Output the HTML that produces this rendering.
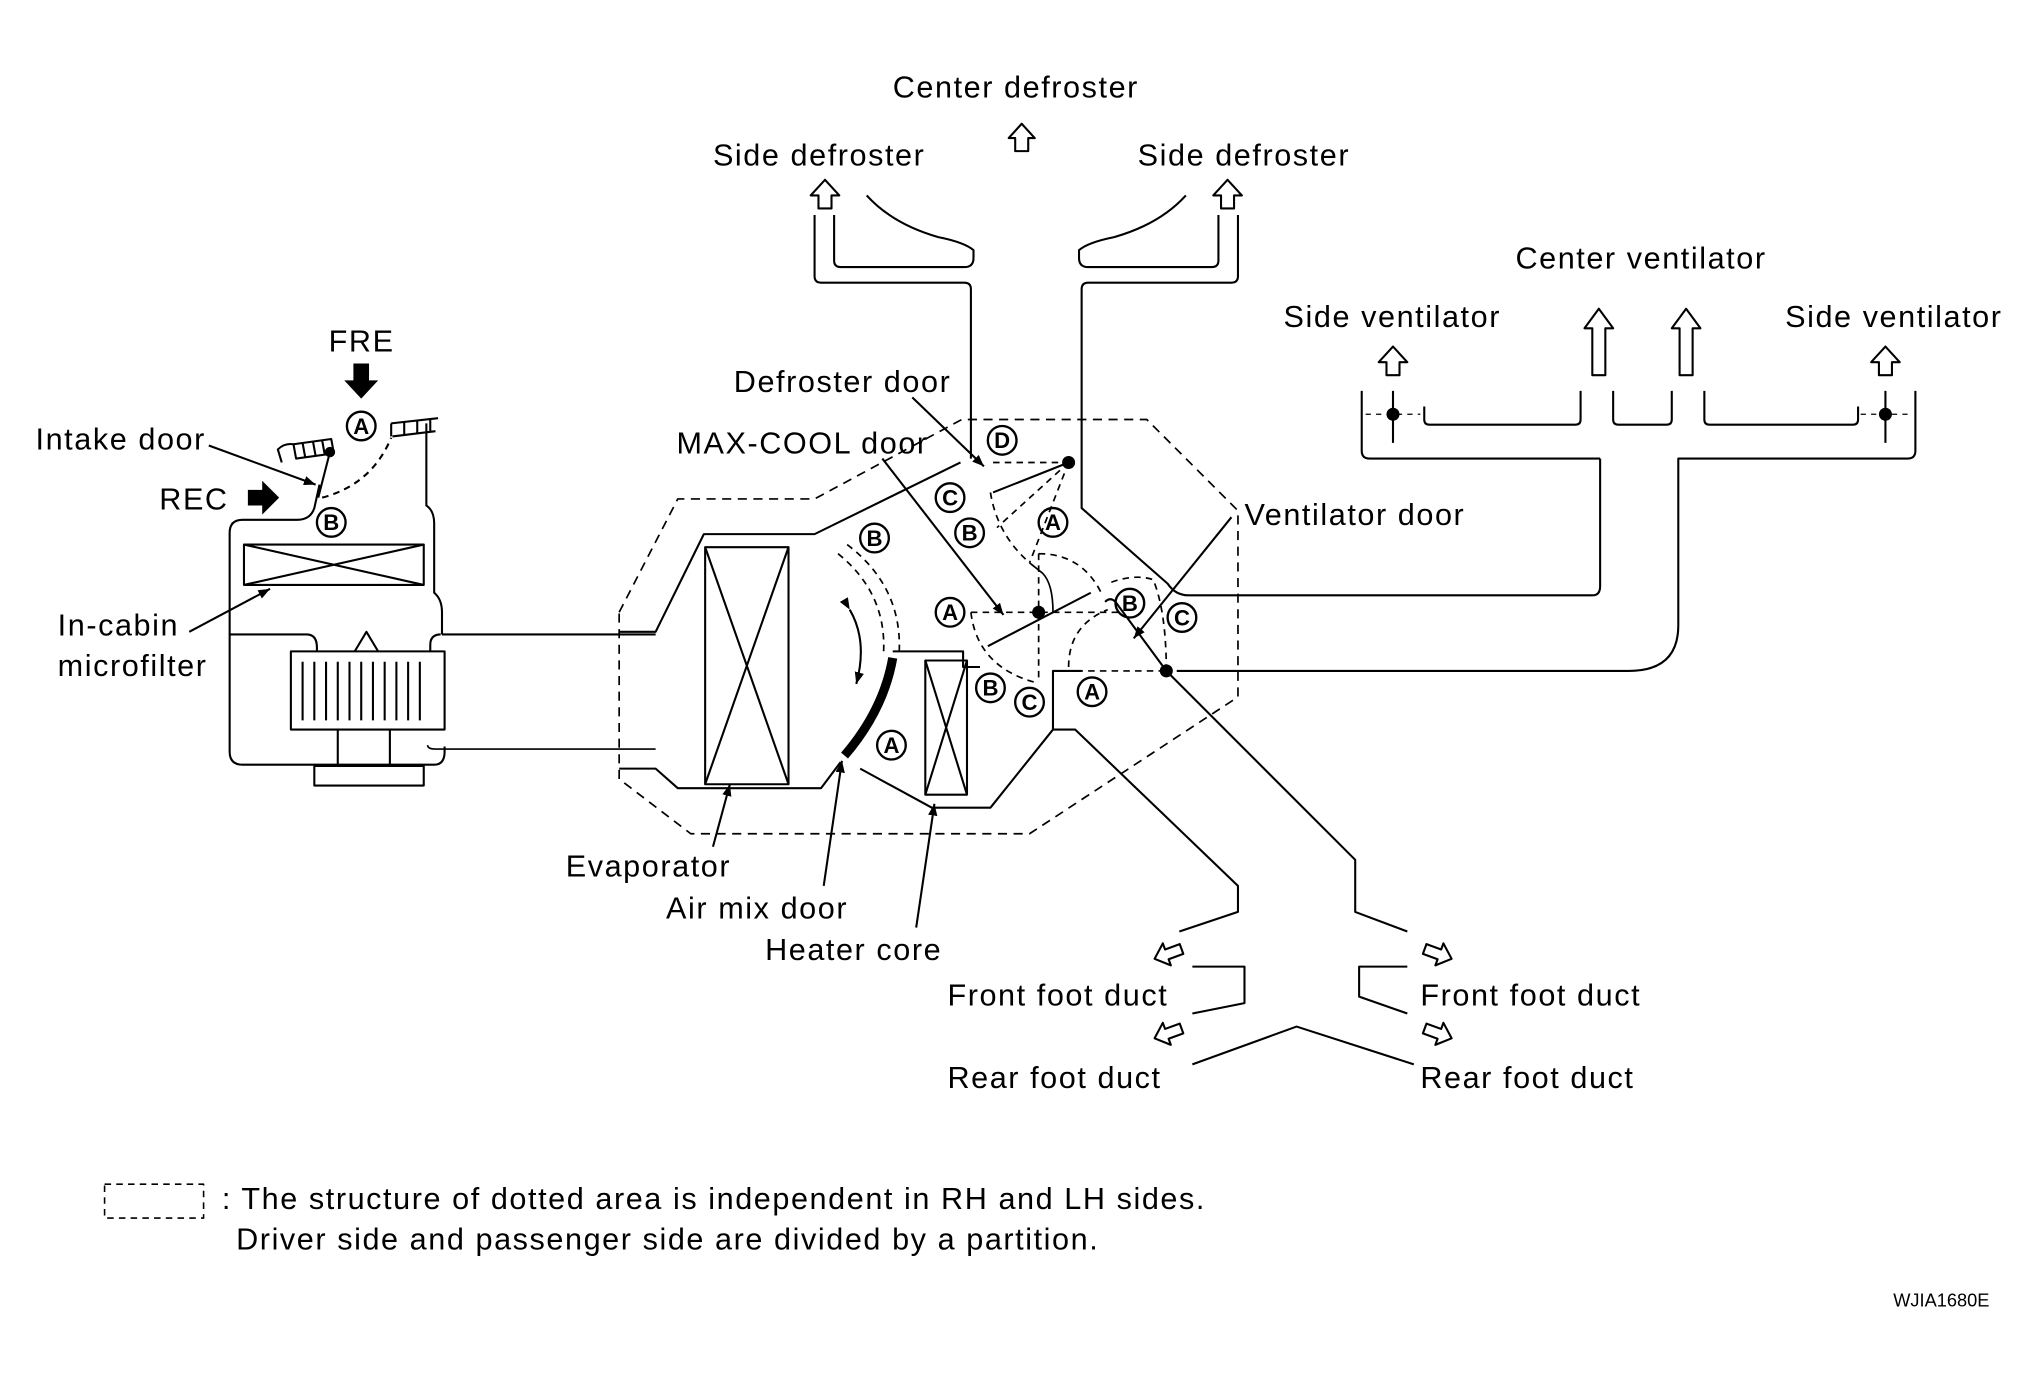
<!DOCTYPE html>
<html><head><meta charset="utf-8"><style>
html,body{margin:0;padding:0;background:#fff;}
svg{display:block;}
text{font-family:"Liberation Sans",sans-serif;fill:#000;}
</style></head><body>
<svg width="2033" height="1377" viewBox="0 0 1560 1057" xmlns="http://www.w3.org/2000/svg">
<defs>
<marker id="ar" viewBox="0 0 10 10" refX="10" refY="5" markerWidth="9" markerHeight="9" orient="auto" markerUnits="userSpaceOnUse"><path d="M0,1 L10,5 L0,9 Z" fill="#000"/></marker>
</defs>
<rect width="1560" height="1057" fill="#fff"/>
<g fill="none" stroke="#000" stroke-width="1.6" stroke-linejoin="round">
<path d="M625,165 V212 Q625,217 630,217 H740 Q745,217 745,222 V352"/>
<path d="M640,165 V200 Q640,205 645,205 H740 Q747,205 747,198 V192 Q740,186 720,182 Q685,172 665,150"/>
<path d="M950,165 V212 Q950,217 945,217 H835 Q830,217 830,222 V390 L896,448 Q902,457 912,457 H1222 Q1228,457 1228,450 V352"/>
<path d="M935,165 V200 Q935,205 930,205 H835 Q828,205 828,198 V192 Q835,186 855,182 Q890,172 910,150"/>
<path d="M1045,300 V346 Q1045,352 1051,352 H1228"/>
<path d="M1470,300 V346 Q1470,352 1464,352 H1288 V480 Q1288,515 1250,515 H903"/>
<path d="M1093,312 V322 Q1093,326 1097,326 H1209 Q1213,326 1213,322 V300"/>
<path d="M1238,300 V322 Q1238,326 1242,326 H1279 Q1283,326 1283,322 V300"/>
<path d="M1308,300 V322 Q1308,326 1312,326 H1422 Q1426,326 1426,322 V312"/>
<path d="M1069,300 V340 M1447,300 V340"/>
<path d="M1048,318 H1090 M1428,318 H1468" stroke-dasharray="4 4" stroke-width="1"/>
<path d="M245,372 L241,390 Q238,399 228,399 H186 Q176,399 176,409 V577 Q176,587 186,587 H333 Q341,587 341,577 V573"/>
<path d="M327,325 V388 Q333,392 333,402 V455 Q339,460 339,470 V487"/>
<path d="M339,487 H503"/>
<path d="M328,572 Q328,575 334,575 H503" stroke-width="1.3"/>
<path d="M176,487 H235 Q243,487 243,497 V500"/>
<path d="M330,500 V495 Q330,487 338,487"/>
<path d="M272,500 L281,485 L290,500"/>
<rect x="223" y="500" width="118" height="60"/>
<path d="M232,508 V553 M241,508 V553 M250,508 V553 M259,508 V553 M268,508 V553 M277,508 V553 M286,508 V553 M295,508 V553 M304,508 V553 M313,508 V553 M322,508 V553"/>
<path d="M259,560 V588 M299,560 V588"/>
<rect x="241" y="588" width="84" height="15"/>
<rect x="187" y="418" width="138" height="31"/>
<path d="M187,418 L325,449 M187,449 L325,418"/>
<path d="M216,355 L213,345 Q218,340 225,341"/>
<path d="M225,341 L254,337 L256,348 L227,352 Z M232,340 L234,351 M240,339 L242,350 M247,338 L249,349"/>
<path d="M300,325 L336,321 M301,335 L334,331 M300,325 V335 M310,324 V334 M320,323 V333 M330,322 V332"/>
<path d="M253,347 L244,382"/>
<path d="M247,382 Q285,372 300,336" stroke-dasharray="5 4"/>
<path d="M475,485 H503 L540,410 H625 L737,355"/>
<path d="M475,590 H503 L520,605 H630 L645,585"/>
<rect x="541" y="420" width="64" height="182"/>
<path d="M541,420 L605,602 M541,602 L605,420"/>
<path d="M660,590 L715,620 H760 L808,560 H825 L950,680 V700 L905,715"/>
<path d="M808,560 V515 H830"/>
<path d="M685,500 H739 V512 H752"/>
<rect x="710" y="507" width="32" height="103"/>
<path d="M710,507 L742,610 M710,610 L742,507"/>
<path d="M895,515 L1040,660 V700 L1080,715"/>
<path d="M915,742 H955 V770 L915,778"/>
<path d="M1080,742 H1043 V765 L1080,778"/>
<path d="M915,817 L995,788 L1085,817"/>
<path d="M475,470 L520,383 H625 L738,322 H880 L950,392 V535 L790,640 H530 L475,598 Z" stroke-dasharray="7 5" stroke-width="1.3"/>
<path d="M820,355 L762,378"/>
<path d="M762,355 H820 M820,355 L765,405 M820,355 L790,432 M760,378 Q765,410 790,432" stroke-dasharray="5 4" stroke-width="1.3"/>
<path d="M790,432 L800,440 Q808,448 808,470" stroke-width="1.3"/>
<path d="M758,496 L837,455"/>
<path d="M745,470 H860 M797,425 V520 M797,425 Q830,425 845,455 M745,470 Q750,512 795,524" stroke-dasharray="5 4" stroke-width="1.3"/>
<path d="M848,462 Q852,458 856,462 L895,515"/>
<path d="M808,515 H895 M820,512 Q820,480 850,468 M895,515 Q895,470 885,445 Q870,440 850,448" stroke-dasharray="5 4" stroke-width="1.3"/>
<path d="M648,580 Q678,545 685,505" stroke-width="7" stroke-linecap="butt"/>
<path d="M650,418 Q692,450 690,500 M643,425 Q680,455 678,500" stroke-dasharray="5 4" stroke-width="1.3"/>
<path d="M652,468 Q666,492 657,525" marker-start="url(#ar)" marker-end="url(#ar)"/>
<path d="M160,342 L242,372" marker-end="url(#ar)"/>
<path d="M145,485 L207,452" marker-end="url(#ar)"/>
<path d="M700,305 L755,358" marker-end="url(#ar)"/>
<path d="M677,352 L770,472" marker-end="url(#ar)"/>
<path d="M945,397 L870,490" marker-end="url(#ar)"/>
<path d="M547,650 L560,602" marker-end="url(#ar)"/>
<path d="M632,680 L646,584" marker-end="url(#ar)"/>
<path d="M703,712 L717,617" marker-end="url(#ar)"/>
<path d="M779,116 V106 H774 L784,95 L794,106 H789 V116 Z"/>
<path d="M628,160 V150 H622 L633,138 L644,150 H638 V160 Z"/>
<path d="M937,160 V150 H931 L942,138 L953,150 H947 V160 Z"/>
<path d="M1064,288 V278 H1058 L1069,266 L1080,278 H1074 V288 Z"/>
<path d="M1442,288 V278 H1436 L1447,266 L1458,278 H1452 V288 Z"/>
<path d="M1222,288 V252 H1216 L1227,237 L1238,252 H1232 V288 Z"/>
<path d="M1289,288 V252 H1283 L1294,237 L1305,252 H1299 V288 Z"/>
<g transform="translate(886,736) rotate(-20)"><path d="M0,0 L10,-9 V-4 H22 V4 H10 V9 Z"/></g>
<g transform="translate(886,797) rotate(-20)"><path d="M0,0 L10,-9 V-4 H22 V4 H10 V9 Z"/></g>
<g transform="translate(1114,736) rotate(20)"><path d="M0,0 L-10,-9 V-4 H-22 V4 H-10 V9 Z"/></g>
<g transform="translate(1114,797) rotate(20)"><path d="M0,0 L-10,-9 V-4 H-22 V4 H-10 V9 Z"/></g>
<rect x="80" y="909" width="76" height="26" stroke-dasharray="5 4" stroke-width="1.2"/>
</g>
<path d="M271,279 H283 V292 H290 L277,306 L264,292 H271 Z" fill="#000"/>
<path d="M190,376 H201 V369 L214,382 L201,395 V388 H190 Z" fill="#000"/>
<g fill="#000">
<circle cx="253" cy="347" r="4"/><circle cx="820" cy="355" r="5"/><circle cx="797" cy="470" r="5"/><circle cx="895" cy="515" r="5"/>
<circle cx="1069" cy="318" r="5"/><circle cx="1447" cy="318" r="5"/>
</g>
<g font-size="17" font-weight="bold" text-anchor="middle">
<g fill="none" stroke="#000" stroke-width="1.8">
<circle cx="277" cy="327" r="11"/><circle cx="254" cy="401" r="11"/><circle cx="769" cy="338" r="11"/><circle cx="729" cy="382" r="11"/><circle cx="744" cy="409" r="11"/><circle cx="808" cy="401" r="11"/><circle cx="671" cy="413" r="11"/><circle cx="729" cy="470" r="11"/><circle cx="867" cy="463" r="11"/><circle cx="907" cy="474" r="11"/><circle cx="760" cy="528" r="11"/><circle cx="790" cy="539" r="11"/><circle cx="838" cy="531" r="11"/><circle cx="684" cy="572" r="11"/>
</g>
<text x="277" y="333">A</text><text x="254" y="407">B</text><text x="769" y="344">D</text><text x="729" y="388">C</text><text x="744" y="415">B</text><text x="808" y="407">A</text><text x="671" y="419">B</text><text x="729" y="476">A</text><text x="867" y="469">B</text><text x="907" y="480">C</text><text x="760" y="534">B</text><text x="790" y="545">C</text><text x="838" y="537">A</text><text x="684" y="578">A</text>
</g>
<g font-size="23.5" letter-spacing="1.2">
<text x="685" y="75">Center defroster</text>
<text x="547" y="127">Side defroster</text>
<text x="873" y="127">Side defroster</text>
<text x="1163" y="206">Center ventilator</text>
<text x="985" y="251">Side ventilator</text>
<text x="1370" y="251">Side ventilator</text>
<text x="252" y="270">FRE</text>
<text x="27" y="345">Intake door</text>
<text x="122" y="391">REC</text>
<text x="44" y="488">In-cabin</text>
<text x="44" y="519">microfilter</text>
<text x="563" y="301">Defroster door</text>
<text x="519" y="348">MAX-COOL door</text>
<text x="955" y="403">Ventilator door</text>
<text x="434" y="673">Evaporator</text>
<text x="511" y="705">Air mix door</text>
<text x="587" y="737">Heater core</text>
<text x="727" y="772">Front foot duct</text>
<text x="1090" y="772">Front foot duct</text>
<text x="727" y="835">Rear foot duct</text>
<text x="1090" y="835">Rear foot duct</text>
<text x="170" y="928">: The structure of dotted area is independent in RH and LH sides.</text>
<text x="181" y="959">Driver side and passenger side are divided by a partition.</text>
</g>
<text x="1453" y="1003" font-size="14">WJIA1680E</text>
</svg>
</body></html>
